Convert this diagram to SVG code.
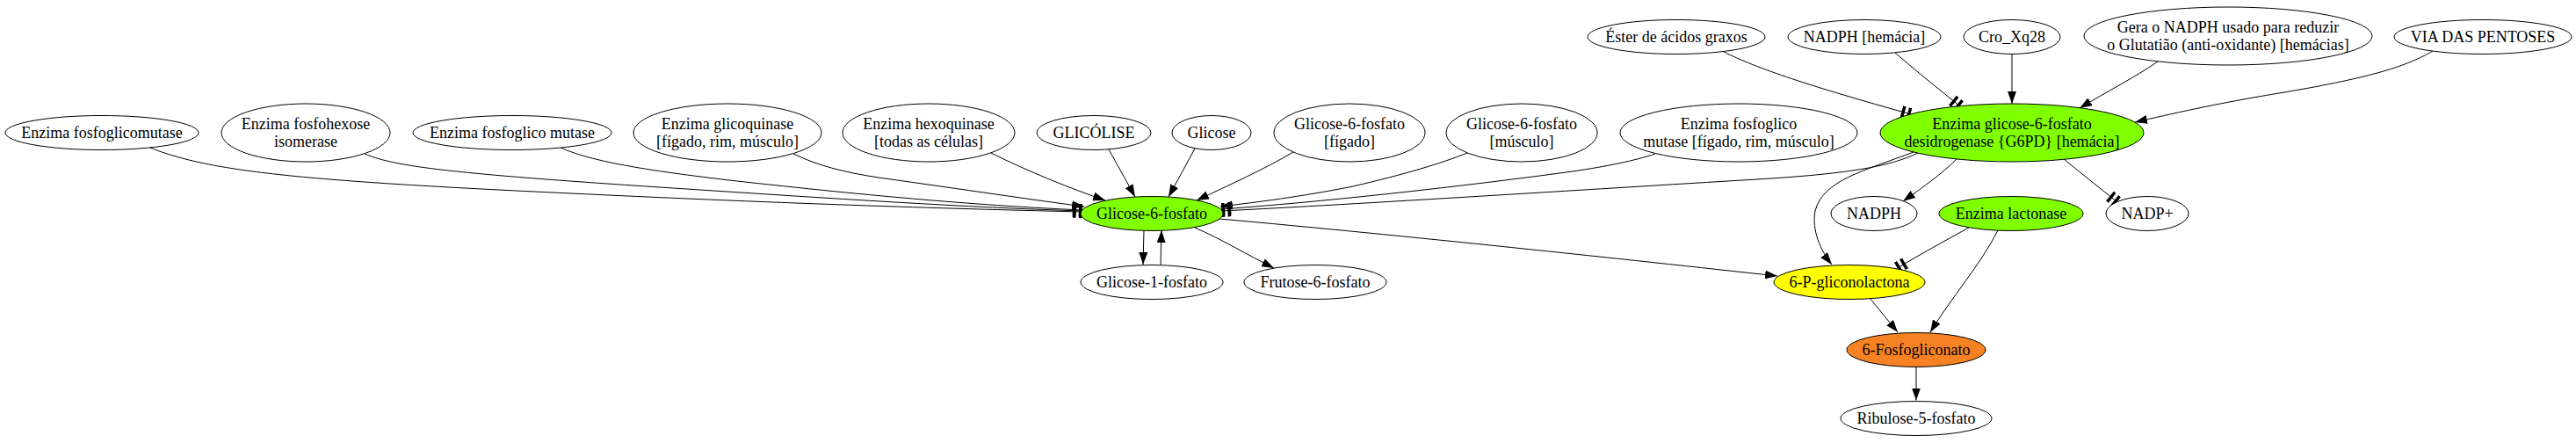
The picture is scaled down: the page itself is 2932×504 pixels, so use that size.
<svg xmlns="http://www.w3.org/2000/svg" width="2932" height="504" viewBox="0 0 2932 504">
<style>
.n ellipse{fill:#ffffff;stroke:#000000;stroke-width:1}
.g ellipse{fill:#7fff00}
.y ellipse{fill:#ffff00}
.o ellipse{fill:#f68223}
text{font-family:"Liberation Serif","Times New Roman",serif;font-size:18px;fill:#000000;text-anchor:middle}
.e path{fill:none;stroke:#000000;stroke-width:1}
.a{marker-end:url(#arr)}
.t{marker-end:url(#tee)}
</style>
<defs>
<marker id="arr" markerUnits="userSpaceOnUse" markerWidth="14" markerHeight="10" refX="14" refY="5" orient="auto" viewBox="0 0 14 10">
<path d="M0,0 L14,5 L0,10 z" fill="#000000"/>
</marker>
<marker id="tee" markerUnits="userSpaceOnUse" markerWidth="12" markerHeight="14" refX="12" refY="7" orient="auto" viewBox="0 0 12 14">
<rect x="1" y="0" width="3.5" height="14" fill="#000000"/>
<rect x="8" y="0" width="3.5" height="14" fill="#000000"/>
</marker>
</defs>
<rect width="2932" height="504" fill="#ffffff"/>

<g id="edges" class="e">
<path class="t" d="M171,168 C240,196 350,206 650,220 C900,232 1100,238 1232,241"/>
<path class="t" d="M415,175 C450,190 520,198 766,214 C950,226 1100,236 1232,240"/>
<path class="t" d="M638,168 C670,182 720,192 830,205 C1000,224 1120,234 1232,239"/>
<path class="a" d="M903,175 C930,188 960,196 1000,202 C1100,216 1180,228 1234,235"/>
<path class="a" d="M1128,174 C1170,195 1220,215 1258,228"/>
<path class="a" d="M1262,170 L1292,224"/>
<path class="a" d="M1360,169 L1330,224"/>
<path class="a" d="M1472,173 C1440,192 1400,210 1362,228"/>
<path class="a" d="M1670,174 C1640,186 1600,198 1540,212 C1480,224 1430,230 1389,235"/>
<path class="t" d="M1884,175 C1860,183 1830,189 1790,195 C1650,214 1500,230 1390,238"/>
<path class="t" d="M2183,174 C2150,190 2100,198 2000,204 C1800,216 1550,232 1390,240"/>
<path class="a" d="M1302,262 L1301,301"/>
<path class="a" d="M1321,301 L1322,262"/>
<path class="a" d="M1360,259 C1390,272 1420,290 1450,305"/>
<path class="a" d="M1388,249 C1600,268 1850,295 2023,314"/>
<path class="t" d="M1962,59 C2000,78 2060,98 2175,130"/>
<path class="t" d="M2157,60 C2180,80 2205,100 2231,121"/>
<path class="a" d="M2290,61.5 L2290,118"/>
<path class="a" d="M2456,70 C2430,88 2400,103 2367,123"/>
<path class="a" d="M2769,58 C2740,75 2700,88 2600,105 C2520,118 2470,130 2430,139"/>
<path class="a" d="M2227,181 C2210,198 2190,212 2166,229"/>
<path class="t" d="M2349,181 C2370,198 2390,214 2410,230"/>
<path class="a" d="M2178,173 C2120,195 2075,205 2066,240 C2062,262 2072,285 2085,301"/>
<path class="t" d="M2241,259 C2215,273 2185,290 2159,305"/>
<path class="a" d="M2274,262 C2255,300 2220,340 2197,378"/>
<path class="a" d="M2128,339 L2160,378"/>
<path class="a" d="M2181,416.5 L2181,455.5"/>
</g>

<g id="ester" class="n"><ellipse cx="1908" cy="42" rx="101" ry="19.5"/><text x="1908" y="48">Éster de ácidos graxos</text></g>
<g id="nadph_hemacia" class="n"><ellipse cx="2122" cy="42" rx="87" ry="19.5"/><text x="2122" y="48">NADPH [hemácia]</text></g>
<g id="cro_xq28" class="n"><ellipse cx="2290" cy="42" rx="55" ry="19.5"/><text x="2290" y="48">Cro_Xq28</text></g>
<g id="gera" class="n"><ellipse cx="2536" cy="41" rx="164" ry="33"/><text x="2536" y="37">Gera o NADPH usado para reduzir</text><text x="2536" y="57">o Glutatião (anti-oxidante) [hemácias]</text></g>
<g id="via_pentoses" class="n"><ellipse cx="2826" cy="42" rx="101" ry="19.5"/><text x="2826" y="48">VIA DAS PENTOSES</text></g>

<g id="fosfoglicomutase" class="n"><ellipse cx="116" cy="151" rx="110" ry="19.5"/><text x="116" y="157">Enzima fosfoglicomutase</text></g>
<g id="fosfohexose" class="n"><ellipse cx="348" cy="151" rx="96" ry="33"/><text x="348" y="147">Enzima fosfohexose</text><text x="348" y="167">isomerase</text></g>
<g id="fosfoglico_mutase" class="n"><ellipse cx="583" cy="151" rx="113" ry="19.5"/><text x="583" y="157">Enzima fosfoglico mutase</text></g>
<g id="glicoquinase" class="n"><ellipse cx="828" cy="151" rx="107" ry="33"/><text x="828" y="147">Enzima glicoquinase</text><text x="828" y="167">[fígado, rim, músculo]</text></g>
<g id="hexoquinase" class="n"><ellipse cx="1057" cy="151" rx="98" ry="33"/><text x="1057" y="147">Enzima hexoquinase</text><text x="1057" y="167">[todas as células]</text></g>
<g id="glicolise" class="n"><ellipse cx="1245" cy="151" rx="65" ry="19.5"/><text x="1245" y="157">GLICÓLISE</text></g>
<g id="glicose" class="n"><ellipse cx="1379" cy="151" rx="45" ry="19.5"/><text x="1379" y="157">Glicose</text></g>
<g id="g6p_figado" class="n"><ellipse cx="1536" cy="151" rx="86" ry="33"/><text x="1536" y="147">Glicose-6-fosfato</text><text x="1536" y="167">[fígado]</text></g>
<g id="g6p_musculo" class="n"><ellipse cx="1732" cy="151" rx="86" ry="33"/><text x="1732" y="147">Glicose-6-fosfato</text><text x="1732" y="167">[músculo]</text></g>
<g id="fosfoglico_mutase_figado" class="n"><ellipse cx="1979" cy="151" rx="135" ry="33"/><text x="1979" y="147">Enzima fosfoglico</text><text x="1979" y="167">mutase [fígado, rim, músculo]</text></g>
<g id="g6pd" class="n g"><ellipse cx="2290" cy="151" rx="150" ry="33"/><text x="2290" y="147">Enzima glicose-6-fosfato</text><text x="2290" y="167">desidrogenase {G6PD} [hemácia]</text></g>

<g id="g6p" class="n g"><ellipse cx="1311" cy="243" rx="81" ry="19.5"/><text x="1311" y="249">Glicose-6-fosfato</text></g>
<g id="nadph" class="n"><ellipse cx="2133" cy="243" rx="49" ry="19.5"/><text x="2133" y="249">NADPH</text></g>
<g id="lactonase" class="n g"><ellipse cx="2289" cy="243" rx="82" ry="19.5"/><text x="2289" y="249">Enzima lactonase</text></g>
<g id="nadp_plus" class="n"><ellipse cx="2444" cy="243" rx="47" ry="19.5"/><text x="2444" y="249">NADP+</text></g>

<g id="g1p" class="n"><ellipse cx="1311" cy="321" rx="81" ry="19.5"/><text x="1311" y="327">Glicose-1-fosfato</text></g>
<g id="f6p" class="n"><ellipse cx="1497" cy="321" rx="81" ry="19.5"/><text x="1497" y="327">Frutose-6-fosfato</text></g>
<g id="gliconolactona" class="n y"><ellipse cx="2105" cy="321" rx="86" ry="19.5"/><text x="2105" y="327">6-P-gliconolactona</text></g>

<g id="fosfogliconato" class="n o"><ellipse cx="2181" cy="398" rx="79" ry="19.5"/><text x="2181" y="404">6-Fosfogliconato</text></g>
<g id="ribulose" class="n"><ellipse cx="2181" cy="476" rx="86" ry="19.5"/><text x="2181" y="482">Ribulose-5-fosfato</text></g>
</svg>
